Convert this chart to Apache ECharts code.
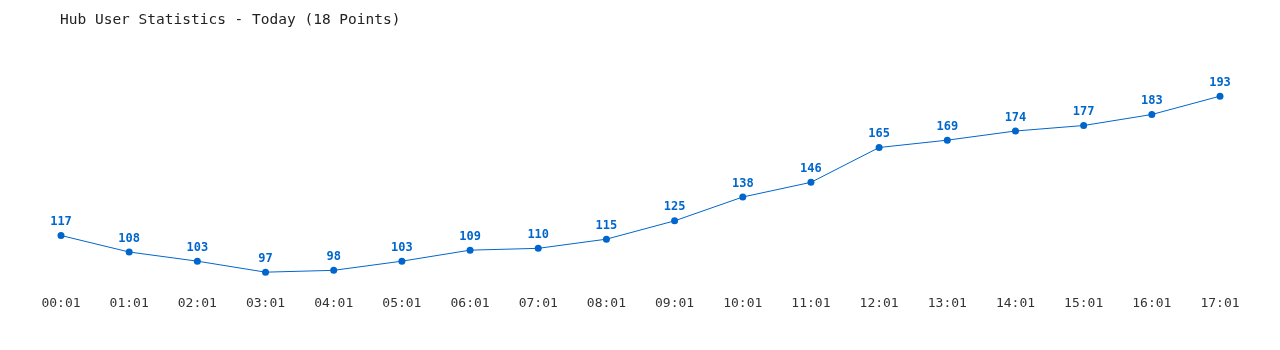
<!DOCTYPE html>
<html><head><meta charset="utf-8">
<script src="https://cdn.jsdelivr.net/npm/echarts@6/dist/echarts.min.js"></script>
<style>html,body{margin:0;padding:0;background:#fff}#c{width:1280px;height:350px}</style>
</head><body><div id="c"></div>
<script>
const categories = ["00:01","01:01","02:01","03:01","04:01","05:01","06:01","07:01","08:01","09:01","10:01","11:01","12:01","13:01","14:01","15:01","16:01","17:01"];
const users = [117,108,103,97,98,103,109,110,115,125,138,146,165,169,174,177,183,193];
const titleText = "Hub User Statistics - Today (18 Points)";
const chart = echarts.init(document.getElementById('c'));
chart.setOption({
  animation:false,
  title:{text:titleText,left:55,top:8,textStyle:{fontFamily:'DejaVu Sans Mono, monospace',fontSize:14.5,fontWeight:'normal',color:'#222'}},
  grid:{left:61,right:60,top:65,bottom:65},
  xAxis:{type:'category',data:categories,boundaryGap:false,
    axisLine:{show:false},axisTick:{show:false},splitLine:{show:false},
    axisLabel:{margin:12,fontFamily:'DejaVu Sans Mono, monospace',fontSize:13,color:'#333'}},
  yAxis:{type:'value',min:90,max:210,show:false,splitLine:{show:false}},
  series:[{type:'line',data:users,symbol:'circle',symbolSize:7,
    lineStyle:{color:'#0066cc',width:1},itemStyle:{color:'#0066cc'},
    label:{show:true,position:'top',distance:4,fontFamily:'DejaVu Sans Mono, monospace',fontWeight:'bold',fontSize:12,color:'#0066cc'}}]
});
</script></body></html>
